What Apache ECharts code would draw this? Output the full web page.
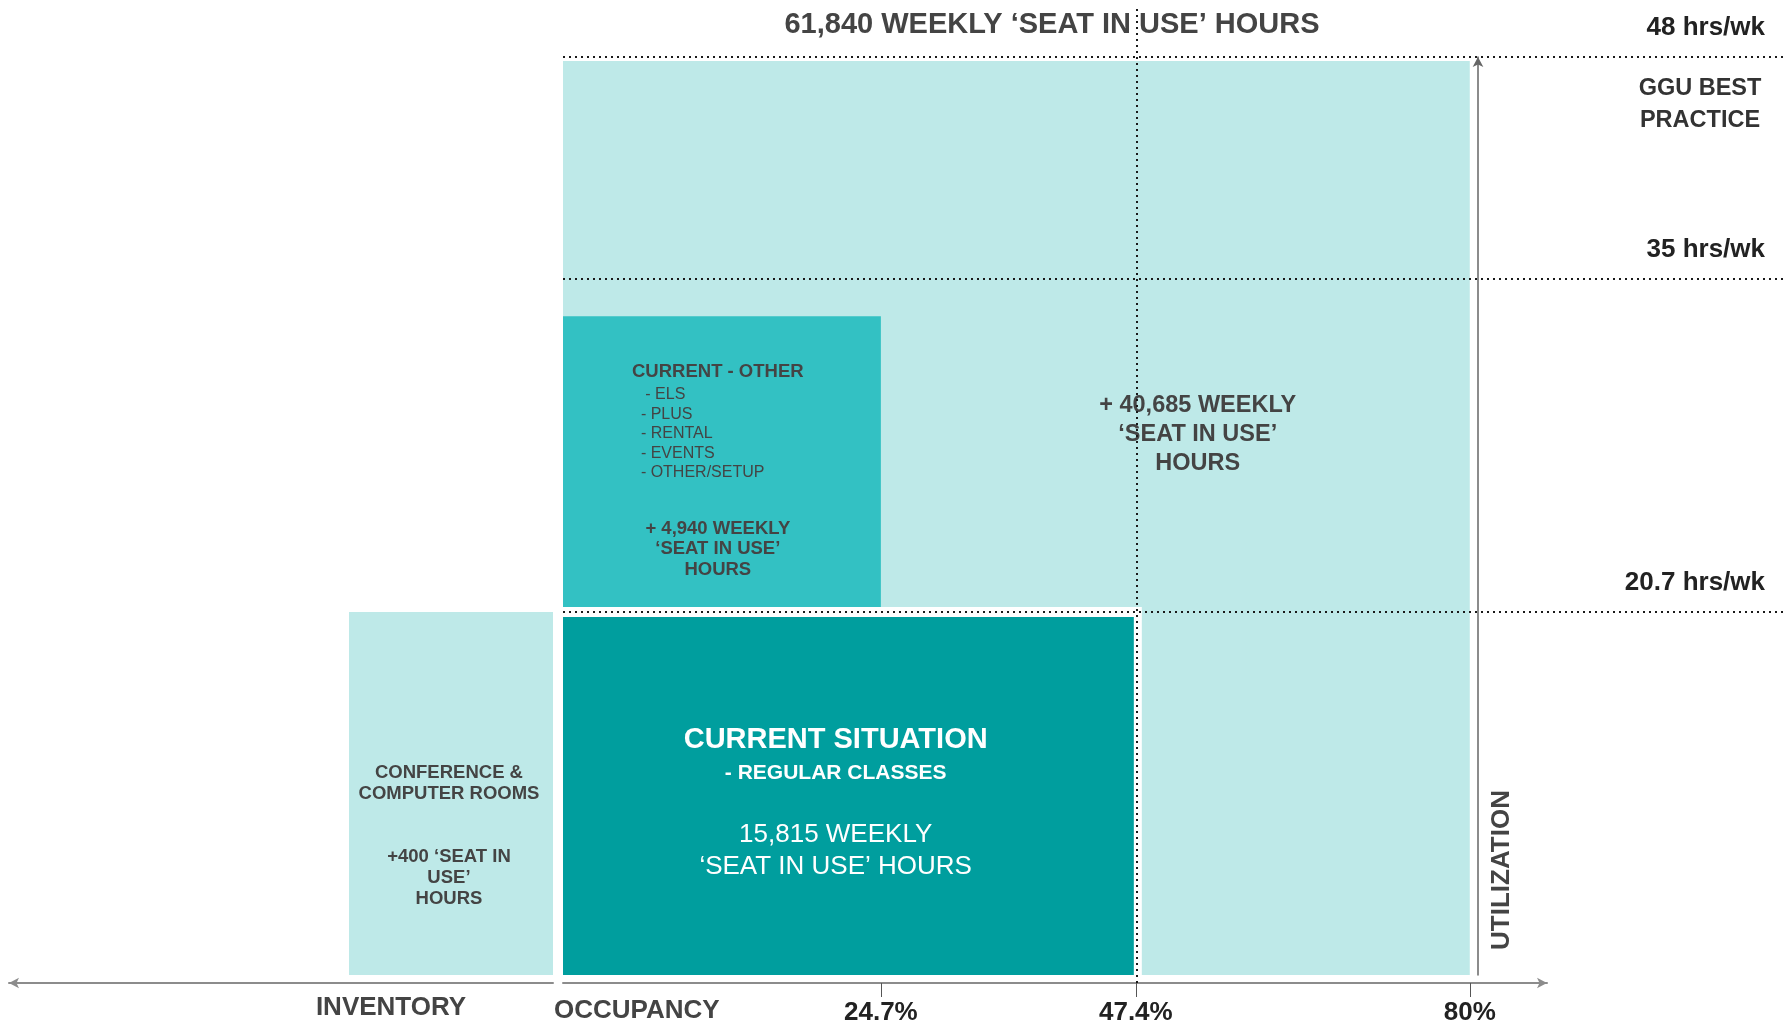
<!DOCTYPE html>
<html>
<head>
<meta charset="utf-8">
<title>Weekly seat-in-use hours</title>
<script src="https://cdn.jsdelivr.net/npm/echarts@6/dist/echarts.min.js"></script>
<style>
  html, body { margin: 0; padding: 0; background: #fff; }
  #chart { width: 1784px; height: 1026px; }
</style>
</head>
<body>
<div id="chart"></div>
<script>
// Seat-hour model: occupancy (x, %) times weekly utilization (y, hrs/wk)
const occupancyTicks = [24.7, 47.4, 80];
const utilizationTicks = [20.7, 35, 48];
const currentOccupancy = 47.4;

const blockNames = ['Best-practice gap', 'Current - other', 'Current situation'];
const blockOccupancy = [[0, 80], [0, 24.7], [0, 47.4]];
const blockHours = [[0, 48], [20.7, 33.4], [0, 20.7]];
const blockSeatHours = [40685, 4940, 15815];
const totalSeatHours = 61840;

const otherUses = ['ELS', 'PLUS', 'RENTAL', 'EVENTS', 'OTHER/SETUP'];

// conference & computer rooms sit on the inventory side (relative room inventory)
const conferenceInventory = [0, 37.5];
const conferenceHours = [0, 20.7];
const conferenceSeatHours = 400;

const FONT = "'Liberation Sans', Arial, Helvetica, sans-serif";
const INK = '#444';
const LIGHT = '#bee9e8';
const MID = '#33c1c3';
const DARK = '#009e9e';
const DOTS = { stroke: '#1a1a1a', lineWidth: 2, lineDash: [2, 4], lineCap: 'butt' };

const fmt = n => n.toLocaleString('en-US');

// compressed spans keep the schematic spacing between the reference levels
const yBreaks = [{ start: 5, end: 15, gap: 4.89 }, { start: 38, end: 46, gap: 4.53 }];
const xBreaks = [{ start: 30, end: 40, gap: 7.11 }, { start: 55, end: 75, gap: 13.35 }];
const hiddenBreakArea = { show: false, itemStyle: { opacity: 0, borderWidth: 0, color: 'rgba(0,0,0,0)' } };

function rectOf(api) {
  const a = api.coord([api.value(0), api.value(2)]);
  const b = api.coord([api.value(1), api.value(3)]);
  return {
    x: Math.min(a[0], b[0]), y: Math.min(a[1], b[1]),
    width: Math.abs(b[0] - a[0]), height: Math.abs(b[1] - a[1])
  };
}

function txt(x, y, text, opts) {
  return {
    type: 'text', x: x, y: y,
    style: Object.assign({
      text: text, fill: INK, fontFamily: FONT,
      align: 'center', verticalAlign: 'middle'
    }, opts)
  };
}

function renderBlock(params, api) {
  const r = rectOf(api);
  const i = params.dataIndex;
  if (i === 0) {
    return {
      type: 'group', children: [
        { type: 'rect', shape: { x: r.x, y: r.y + 4, width: r.width, height: r.height - 4 }, style: { fill: LIGHT } },
        txt(r.x + 0.70 * r.width, r.y + 0.411 * r.height,
          '+ ' + fmt(blockSeatHours[0]) + ' WEEKLY\n‘SEAT IN USE’\nHOURS',
          { fontSize: 23.5, fontWeight: 'bold', lineHeight: 29 })
      ]
    };
  }
  if (i === 1) {
    return {
      type: 'group', children: [
        { type: 'rect', shape: r, style: { fill: MID } },
        txt(r.x + 0.487 * r.width, r.y + 0.19 * r.height, 'CURRENT - OTHER',
          { fontSize: 18.5, fontWeight: 'bold' }),
        {
          type: 'text', x: r.x + 0.245 * r.width, y: r.y + 0.233 * r.height,
          style: {
            text: otherUses.map((u, k) => (k === 0 ? ' - ' : '- ') + u).join('\n'),
            fill: INK, fontFamily: FONT, fontSize: 16, lineHeight: 19.5,
            align: 'left', verticalAlign: 'top'
          }
        },
        txt(r.x + 0.487 * r.width, r.y + 0.788 * r.height,
          '+ ' + fmt(blockSeatHours[1]) + ' WEEKLY\n‘SEAT IN USE’\nHOURS',
          { fontSize: 18.5, fontWeight: 'bold', lineHeight: 20.5 })
      ]
    };
  }
  // current situation: white keyline above and to the right of the block
  return {
    type: 'group', children: [
      { type: 'rect', shape: { x: r.x, y: r.y - 5, width: r.width + 6, height: r.height + 5 }, style: { fill: '#fff' } },
      { type: 'rect', shape: { x: r.x, y: r.y + 5, width: r.width - 2, height: r.height - 5 }, style: { fill: DARK } },
      txt(r.x + 0.476 * r.width, r.y + 0.527 * r.height,
        '{h|CURRENT SITUATION}\n{s|- REGULAR CLASSES}\n{g| }\n{v|' + fmt(blockSeatHours[2]) +
        ' WEEKLY}\n{v|‘SEAT IN USE’ HOURS}',
        {
          fill: '#fff',
          rich: {
            h: { fill: '#fff', fontFamily: FONT, fontSize: 29, fontWeight: 'bold', lineHeight: 33 },
            s: { fill: '#fff', fontFamily: FONT, fontSize: 21, fontWeight: 'bold', lineHeight: 33 },
            g: { fill: '#fff', fontFamily: FONT, fontSize: 10, lineHeight: 30 },
            v: { fill: '#fff', fontFamily: FONT, fontSize: 26, lineHeight: 32 }
          }
        })
    ]
  };
}

function renderConference(params, api) {
  const r = rectOf(api);
  return {
    type: 'group', children: [
      { type: 'rect', shape: r, style: { fill: LIGHT } },
      txt(r.x + 0.49 * r.width, r.y + 0.617 * r.height,
        'CONFERENCE &\nCOMPUTER ROOMS\n\n\n+' + fmt(conferenceSeatHours) + ' ‘SEAT IN\nUSE’\nHOURS',
        { fontSize: 18.5, fontWeight: 'bold', lineHeight: 21 })
    ]
  };
}

// dotted hrs/wk level: from zero occupancy out to the right edge of the page
function renderLevel(params, api) {
  const p = api.coord([0, api.value(1)]);
  const y = Math.round(p[1]);
  return { type: 'line', shape: { x1: p[0], y1: y, x2: api.getWidth(), y2: y }, style: DOTS };
}

// dotted current-occupancy line: from the axis line up through the headline
function renderOccupancyLine(params, api) {
  const base = api.coord([api.value(0), 0]);
  const x = Math.round(base[0]) + 1;
  return { type: 'line', shape: { x1: x, y1: base[1] + 8, x2: x, y2: 8 }, style: DOTS };
}

const blockData = blockNames.map((name, i) => ({
  name: name,
  value: [blockOccupancy[i][0], blockOccupancy[i][1], blockHours[i][0], blockHours[i][1]]
}));

const arrowLine = (color, width, symbol) => ({
  show: true, onZero: false,
  lineStyle: { color: color, width: width },
  symbol: symbol, symbolSize: [8, 10]
});

const boldText = (size, color) => ({ fontFamily: FONT, fontSize: size, fontWeight: 'bold', color: color });
const bare = { axisTick: { show: false }, axisLabel: { show: false }, splitLine: { show: false } };

const option = {
  backgroundColor: '#fff',
  animation: false,
  title: {
    text: fmt(totalSeatHours) + ' WEEKLY ‘SEAT IN USE’ HOURS',
    left: 1052, top: 10, textAlign: 'center', padding: 0,
    textStyle: boldText(29, INK)
  },
  grid: [
    { left: 563, top: 57, width: 984, height: 918 },
    { left: 9, top: 57, width: 544, height: 918 }
  ],
  xAxis: [
    // occupancy scale: ticks, labels and name
    {
      gridIndex: 0, type: 'value', position: 'bottom', min: 0, max: 86,
      breaks: xBreaks, breakArea: hiddenBreakArea,
      offset: 8,
      name: 'OCCUPANCY', nameLocation: 'start', nameGap: 9,
      nameTextStyle: Object.assign(boldText(26, INK), { align: 'left', verticalAlign: 'top', padding: [15, 0, 0, 0] }),
      axisLine: { show: false, onZero: false },
      axisTick: { show: true, customValues: occupancyTicks, length: 14, lineStyle: { color: '#555', width: 1 } },
      axisLabel: Object.assign(boldText(26, '#222'), {
        customValues: occupancyTicks, formatter: v => v + '%', margin: 17
      }),
      splitLine: { show: false }
    },
    // inventory runs to the left
    Object.assign({
      gridIndex: 1, type: 'value', position: 'bottom', min: 0, max: 100, inverse: true,
      offset: 8,
      axisLine: arrowLine('#8c8c8c', 2, ['arrow', 'none'])
    }, bare),
    // continuous arrowed line under the occupancy scale
    Object.assign({
      gridIndex: 0, type: 'value', position: 'bottom', min: 0, max: 86,
      offset: 8,
      axisLine: arrowLine('#8c8c8c', 2, ['none', 'arrow'])
    }, bare)
  ],
  yAxis: [
    // utilization scale: hrs/wk labels
    {
      gridIndex: 0, type: 'value', min: 0, max: 48,
      breaks: yBreaks, breakArea: hiddenBreakArea,
      position: 'right', offset: -69,
      axisLine: { show: false, onZero: false },
      axisTick: { show: false },
      axisLabel: Object.assign(boldText(26, '#222'), {
        customValues: utilizationTicks, formatter: v => v + ' hrs/wk',
        align: 'right', margin: 287, verticalAlign: 'bottom', padding: [0, 0, 16, 0]
      }),
      splitLine: { show: false }
    },
    Object.assign({
      gridIndex: 1, type: 'value', min: 0, max: 48,
      breaks: yBreaks, breakArea: hiddenBreakArea,
      axisLine: { show: false, onZero: false }
    }, bare),
    // continuous arrowed utilization line
    Object.assign({
      gridIndex: 0, type: 'value', min: 0, max: 48,
      position: 'right', offset: -69,
      axisLine: arrowLine('#666', 1.5, ['none', 'arrow'])
    }, bare)
  ],
  graphic: [
    { type: 'text', x: 391, y: 1008, style: { text: 'INVENTORY', fill: INK, fontFamily: FONT, fontSize: 26, fontWeight: 'bold', align: 'center', verticalAlign: 'middle' } },
    { type: 'text', x: 1502, y: 870, rotation: Math.PI / 2, style: { text: 'UTILIZATION', fill: INK, fontFamily: FONT, fontSize: 26, fontWeight: 'bold', align: 'center', verticalAlign: 'middle' } },
    { type: 'text', x: 1700, y: 105, style: { text: 'GGU BEST\nPRACTICE', fill: '#333', fontFamily: FONT, fontSize: 23.5, fontWeight: 'bold', lineHeight: 32, align: 'center', verticalAlign: 'middle' } }
  ],
  series: [
    {
      type: 'custom', name: 'Seat-in-use hours',
      xAxisIndex: 0, yAxisIndex: 0, z: 2, silent: true,
      renderItem: renderBlock,
      encode: { x: [0, 1], y: [2, 3] },
      data: blockData
    },
    {
      type: 'custom', name: 'Conference & computer rooms',
      xAxisIndex: 1, yAxisIndex: 1, z: 2, silent: true,
      renderItem: renderConference,
      encode: { x: [0, 1], y: [2, 3] },
      data: [[conferenceInventory[0], conferenceInventory[1], conferenceHours[0], conferenceHours[1]]]
    },
    {
      type: 'custom', name: 'Utilization levels',
      xAxisIndex: 0, yAxisIndex: 0, z: 10, silent: true, clip: false,
      renderItem: renderLevel,
      encode: { x: 0, y: 1 },
      data: utilizationTicks.map(v => [0, v])
    },
    {
      type: 'custom', name: 'Current occupancy',
      xAxisIndex: 0, yAxisIndex: 0, z: 10, silent: true, clip: false,
      renderItem: renderOccupancyLine,
      encode: { x: 0, y: 1 },
      data: [[currentOccupancy, 0]]
    }
  ]
};

const chart = echarts.init(document.getElementById('chart'), null, { renderer: 'canvas' });
chart.setOption(option);
</script>
</body>
</html>
